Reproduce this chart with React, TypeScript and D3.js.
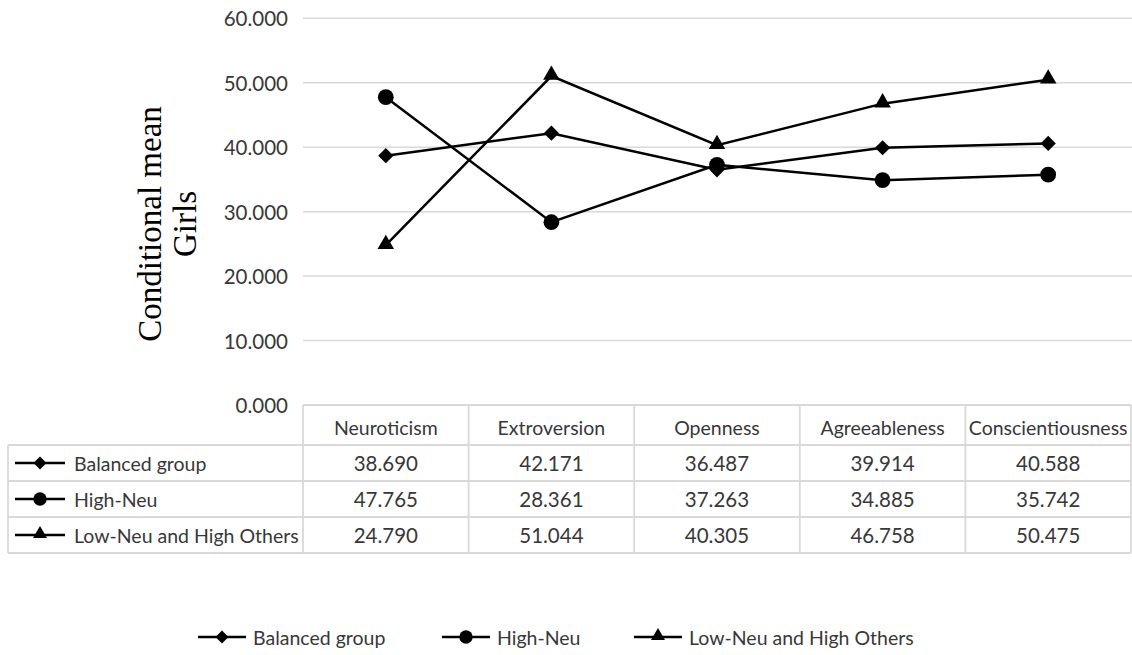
import React from "react";
import * as d3 from "d3";

// Five personality traits on the x axis
const categories = ["Neuroticism", "Extroversion", "Openness", "Agreeableness", "Conscientiousness"];

// Conditional means for girls, one array per latent profile
const balancedGroup = [38.69, 42.171, 36.487, 39.914, 40.588];
const highNeu = [47.765, 28.361, 37.263, 34.885, 35.742];
const lowNeuHighOthers = [24.79, 51.044, 40.305, 46.758, 50.475];

const seriesNames = ["Balanced group", "High-Neu", "Low-Neu and High Others"];
const yTicks = [0, 10, 20, 30, 40, 50, 60];

const W = 1132;
const H = 655;
const FONT = "Lato, 'Open Sans', sans-serif";
const GRID = "#d9d9d9";
const TEXT = "#383838";
const WORD_SIZE = 19.5;
const NUM_SIZE = 20.5;

type Shape = "diamond" | "circle" | "triangle";
const series: { name: string; values: number[]; shape: Shape }[] = [
  { name: seriesNames[0], values: balancedGroup, shape: "diamond" },
  { name: seriesNames[1], values: highNeu, shape: "circle" },
  { name: seriesNames[2], values: lowNeuHighOthers, shape: "triangle" },
];

function markerPath(shape: Shape, scale = 1): string {
  if (shape === "diamond") return d3.symbol(d3.symbolSquare, 116 * scale)()!;
  if (shape === "circle") return d3.symbol(d3.symbolCircle, 195 * scale)()!;
  return d3.symbol(d3.symbolTriangle, 118 * scale)()!;
}

function Marker({ shape, x, y, scale = 1 }: { shape: Shape; x: number; y: number; scale?: number }) {
  const rot = shape === "diamond" ? " rotate(45)" : "";
  const dy = shape === "triangle" ? -1 : 0;
  return <path d={markerPath(shape, scale)} transform={`translate(${x},${y + dy})${rot}`} fill="#000" />;
}

function LegendKey({ shape, x, y, w }: { shape: Shape; x: number; y: number; w: number }) {
  return (
    <g>
      <line x1={x} x2={x + w} y1={y} y2={y} stroke="#000" strokeWidth={2.5} />
      <Marker shape={shape} x={x + w / 2} y={y} scale={0.72} />
    </g>
  );
}

export default function App() {
  const plotLeft = 303;
  const plotRight = 1131;
  const x = d3.scaleBand<string>().domain(categories).range([plotLeft, plotRight]);
  const cx = (c: string) => (x(c) ?? 0) + x.bandwidth() / 2;
  const y = d3.scaleLinear().domain([0, 60]).range([405, 18.3]);

  const line = d3
    .line<number>()
    .x((_, i) => cx(categories[i]))
    .y((v) => y(v));

  // table geometry
  const tableLeft = 8;
  const headerTop = y(0);
  const headerBottom = 445;
  const rowH = 36;
  const rowTops = series.map((_, i) => headerBottom + i * rowH);
  const tableBottom = headerBottom + series.length * rowH;

  return (
    <svg
      width={W}
      height={H}
      viewBox={`0 0 ${W} ${H}`}
      style={{ position: "absolute", left: 0, top: 0, background: "#fff" }}
      fontFamily={FONT}
    >
      {/* gridlines */}
      {yTicks.slice(1).map((t) => (
        <line key={t} x1={plotLeft} x2={W} y1={y(t)} y2={y(t)} stroke={GRID} strokeWidth={1.5} />
      ))}
      {/* y tick labels */}
      {yTicks.map((t) => (
        <text key={t} x={288} y={y(t)} textAnchor="end" dominantBaseline="central" fontSize={NUM_SIZE} fill={TEXT}>
          {d3.format(".3f")(t)}
        </text>
      ))}
      {/* y axis title */}
      <g transform={`translate(150,224) rotate(-90)`} fontFamily="'Liberation Serif', 'Times New Roman', serif" fontSize={33} fill="#000">
        <text x={0} y={0} textAnchor="middle" dominantBaseline="central">Conditional mean</text>
        <text x={0} y={35} textAnchor="middle" dominantBaseline="central">Girls</text>
      </g>

      {/* series lines and markers */}
      {series.map((s) => (
        <g key={s.name}>
          <path d={line(s.values) ?? ""} fill="none" stroke="#000" strokeWidth={2.5} />
          {s.values.map((v, i) => (
            <Marker key={i} shape={s.shape} x={cx(categories[i])} y={y(v)} />
          ))}
        </g>
      ))}

      {/* data table */}
      <g stroke={GRID} strokeWidth={1.8} fill="none">
        <line x1={plotLeft} x2={plotRight} y1={headerTop} y2={headerTop} />
        <line x1={tableLeft} x2={plotRight} y1={headerBottom} y2={headerBottom} />
        {rowTops.map((t, i) => (
          <line key={i} x1={tableLeft} x2={plotRight} y1={t + rowH} y2={t + rowH} />
        ))}
        <line x1={tableLeft} x2={tableLeft} y1={headerBottom} y2={tableBottom} />
        {categories.map((c) => (
          <line key={c} x1={x(c)!} x2={x(c)!} y1={headerTop} y2={tableBottom} />
        ))}
        <line x1={plotRight} x2={plotRight} y1={headerTop} y2={tableBottom} />
      </g>
      {categories.map((c) => (
        <text key={c} x={cx(c)} y={(headerTop + headerBottom) / 2 + 2} textAnchor="middle" dominantBaseline="central" fontSize={WORD_SIZE} fill={TEXT}>
          {c}
        </text>
      ))}
      {series.map((s, r) => (
        <g key={s.name}>
          <LegendKey shape={s.shape} x={15} y={rowTops[r] + rowH / 2} w={50} />
          <text x={74} y={rowTops[r] + rowH / 2} dominantBaseline="central" fontSize={WORD_SIZE} fill={TEXT}>
            {s.name}
          </text>
          {s.values.map((v, i) => (
            <text key={i} x={cx(categories[i])} y={rowTops[r] + rowH / 2} textAnchor="middle" dominantBaseline="central" fontSize={NUM_SIZE} fill={TEXT}>
              {d3.format(".3f")(v)}
            </text>
          ))}
        </g>
      ))}

      {/* bottom legend */}
      {series.map((s, i) => {
        const lx = [198, 442, 634][i];
        return (
          <g key={s.name}>
            <LegendKey shape={s.shape} x={lx} y={637} w={48} />
            <text x={lx + 55} y={637} dominantBaseline="central" fontSize={WORD_SIZE} fill={TEXT}>
              {s.name}
            </text>
          </g>
        );
      })}
    </svg>
  );
}
